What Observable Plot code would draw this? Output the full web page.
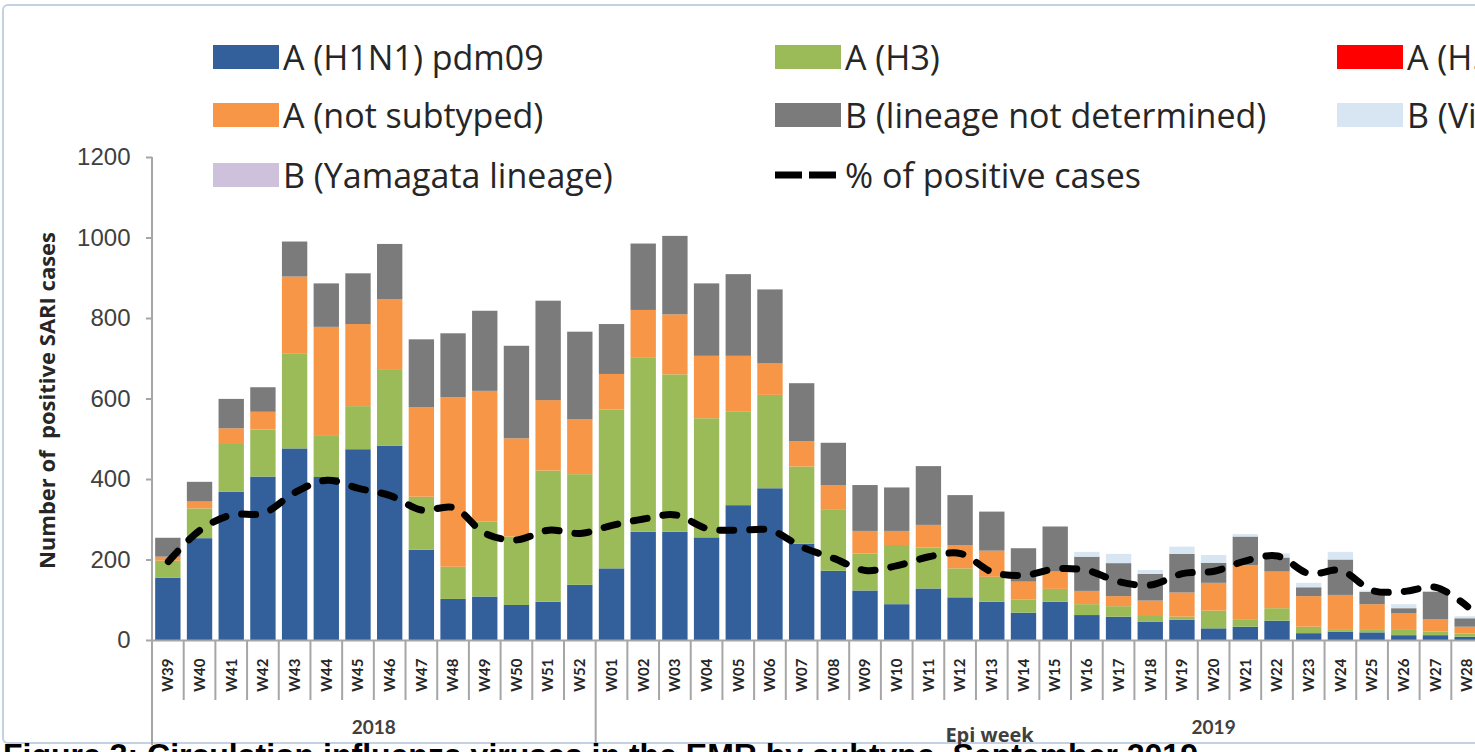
<!DOCTYPE html>
<html>
<head>
<meta charset="utf-8">
<script src="https://cdn.jsdelivr.net/npm/d3@7"></script>
<script src="https://cdn.jsdelivr.net/npm/@observablehq/plot@0.6"></script>
<style>
  html, body { margin: 0; padding: 0; overflow: hidden; background: #fff; }
  #wrap { position: relative; width: 1475px; height: 752px; overflow: hidden; background: #fff; }
  #frame { position: absolute; left: 2px; top: 4px; width: 1520px; height: 740px; border: 2px solid #c3d1e2; border-radius: 6px; box-sizing: border-box; }
  #chart { position: absolute; left: 0; top: 0; width: 1490px; height: 752px; }
  #chart svg { max-width: none !important; }
  .lg { position: absolute; height: 40px; display: flex; align-items: center; white-space: nowrap;
        font-family: "Open Sans", Lato, sans-serif; font-size: 34px; color: #262626; }
  .sw { width: 66px; height: 24px; margin-right: 4px; flex: none; }
  .caption { position: absolute; left: 3px; top: 739px; white-space: nowrap; line-height: 32px;
             font-family: "Liberation Sans", Arial, sans-serif; font-weight: bold; font-size: 32px; color: #000; }
</style>
</head>
<body>
<div id="wrap">
  <div id="frame"></div>
  <div id="chart"></div>
  <div id="legend"></div>
  <div class="caption">Figure 3: Circulation influenza viruses in the EMR by subtype, September 2019</div>
</div>
<script>
// ---- data ----
const weeks = ["W39","W40","W41","W42","W43","W44","W45","W46","W47","W48","W49","W50","W51","W52",
  "W01","W02","W03","W04","W05","W06","W07","W08","W09","W10","W11","W12","W13","W14",
  "W15","W16","W17","W18","W19","W20","W21","W22","W23","W24","W25","W26","W27","W28"];

const h1n1 = [155,253,368,406,476,405,474,483,224,102,108,87,95,137,
  178,269,269,255,335,377,239,172,123,89,128,106,95,68,
  95,62,58,45,50,29,33,48,17,21,19,12,12,8];
const h3 = [42,74,119,117,235,104,107,190,132,80,186,170,326,275,
  395,432,391,296,232,232,192,153,92,147,102,72,62,33,
  32,27,26,17,8,44,17,31,16,6,6,13,9,8];
const h5 = [0,0,0,0,0,0,0,0,0,0,0,0,0,0,
  0,0,0,0,0,0,0,0,0,0,0,0,0,0,
  0,0,0,0,0,0,0,0,0,0,0,0,0,0];
const notSubtyped = [10,17,39,44,192,269,204,174,222,421,325,244,175,136,
  88,119,149,155,139,78,63,60,56,35,56,58,65,44,
  43,33,25,36,60,69,136,91,76,85,64,41,30,17];
const bNotDetermined = [47,49,73,61,87,108,126,137,169,159,199,230,247,218,
  124,165,195,180,203,184,144,105,114,108,146,124,97,83,
  112,85,82,66,96,50,71,35,22,88,31,13,69,21];
const bVictoria = [0,0,0,0,0,0,0,0,0,0,0,0,0,0,
  0,0,0,0,0,0,0,0,0,0,0,0,0,0,
  0,12,23,10,18,19,6,10,11,19,3,10,0,5];
const bYamagata = [0,0,0,0,0,0,0,0,0,0,0,0,0,0,
  0,0,0,0,0,0,0,0,0,0,0,0,0,0,
  0,0,0,0,0,0,0,0,0,0,0,0,0,0];
// % of positive cases (secondary axis, 0–60 %)
const pctPositive = [9.8,13.7,15.6,15.8,18.4,19.9,18.9,18.0,16.2,16.5,13.3,12.5,13.7,13.3,
  14.3,15.1,15.6,13.9,13.7,13.7,11.6,10.2,8.7,9.3,10.4,10.8,8.5,8.1,
  8.9,8.7,7.3,6.9,8.3,8.6,9.9,10.5,8.3,8.7,6.2,6.1,6.6,4.2];

const seriesNames = ["A (H1N1) pdm09","A (H3)","A (H5)","A (not subtyped)",
  "B (lineage not determined)","B (Victoria lineage)","B (Yamagata lineage)"];
const seriesColors = ["#33609a","#9bbb59","#ff0000","#f79646","#7b7b7b","#d7e6f2","#cdc1db"];
const lineName = "% of positive cases";
const yTicks = [0,200,400,600,800,1000,1200];
const yTitle = "Number of  positive SARI cases";
const xTitle = "Epi week";
const years = ["2018","2019"];
const pctMax = 60, casesMax = 1200;

// ---- table ----
const seriesValues = [h1n1,h3,h5,notSubtyped,bNotDetermined,bVictoria,bYamagata];
const rows = [];
seriesNames.forEach((s,i) => weeks.forEach((w,j) => rows.push({week:w, series:s, cases:seriesValues[i][j]})));
const linePts = weeks.map((w,j) => ({week:w, pct:pctPositive[j]}));

const chart = Plot.plot({
  width: 1490, height: 752,
  marginLeft: 152, marginRight: 7, marginTop: 157, marginBottom: 112,
  style: {background: "transparent", overflow: "visible", maxWidth: "none"},
  x: {domain: weeks, paddingInner: 0.2, paddingOuter: 0.1, round: false},
  y: {domain: [0, casesMax]},
  color: {domain: seriesNames, range: seriesColors},
  marks: [
    Plot.barY(rows, {x: "week", y: "cases", fill: "series"}),
    Plot.ruleY([0], {stroke: "#a6a6a6", strokeWidth: 2}),
    Plot.axisY({ticks: yTicks, tickSize: 6, tickPadding: 16, tickFormat: d => String(d), label: null,
      fontSize: 24, fontFamily: "'Liberation Sans', sans-serif"}),
    Plot.axisX({tickRotate: -90, tickSize: 0, tickPadding: 18, label: null,
      fontSize: 15, fontWeight: "bold", fontFamily: "Lato, sans-serif"}),
    Plot.line(linePts, {x: "week", y: d => d.pct * casesMax / pctMax, curve: "catmull-rom",
      stroke: "#000", strokeWidth: 7, strokeDasharray: "14,16", strokeLinecap: "round"})
  ]
});
document.getElementById("chart").appendChild(chart);

// ---- axis styling & multi-level category axis ----
const svg = d3.select(chart);
svg.selectAll('g[aria-label="y-axis tick"]').attr("stroke", "#a6a6a6").attr("stroke-width", 2);
svg.selectAll('g[aria-label="y-axis tick label"]').attr("fill", "#404040");
svg.selectAll('g[aria-label="x-axis tick label"]').attr("fill", "#262626");

const xs = chart.scale("x"), ys = chart.scale("y");
const bw = xs.bandwidth;
const step = xs.apply(weeks[1]) - xs.apply(weeks[0]);
const leftEdge = w => xs.apply(w) - (step - bw) / 2;
const y0 = ys.apply(0), yTop = ys.apply(casesMax);

const g = svg.append("g").attr("stroke", "#a6a6a6").attr("stroke-width", 2);
weeks.forEach((w, i) => {
  if (i === 0) return;
  const x = leftEdge(w);
  g.append("line").attr("x1", x).attr("x2", x).attr("y1", y0).attr("y2", w === "W01" ? 745 : 700);
});
const xAxis0 = leftEdge(weeks[0]);
g.append("line").attr("x1", xAxis0).attr("x2", xAxis0).attr("y1", yTop).attr("y2", 745);

const t = svg.append("g").attr("font-family", "Lato, sans-serif").attr("font-weight", "bold").attr("fill", "#404040");
const x2018 = (leftEdge("W39") + leftEdge("W01")) / 2;
const x2019 = xs.apply("W20") + bw / 2;
t.append("text").attr("x", x2018).attr("y", y0 + 87).attr("text-anchor", "middle").attr("dy", "0.35em").attr("font-size", 19).text(years[0]);
t.append("text").attr("x", x2019).attr("y", y0 + 87).attr("text-anchor", "middle").attr("dy", "0.35em").attr("font-size", 19).text(years[1]);
t.append("text").attr("x", xs.apply("W12") - 2).attr("y", y0 + 95).attr("text-anchor", "start").attr("dy", "0.35em")
  .attr("font-family", "'Open Sans', Lato, sans-serif").attr("font-size", 20).text(xTitle);
svg.append("text").attr("transform", `translate(47,${(y0 + yTop) / 2 + 2}) rotate(-90)`)
  .attr("text-anchor", "middle").attr("dy", "0.35em")
  .attr("font-family", "'Open Sans', Lato, sans-serif").attr("font-weight", "bold").attr("font-size", 22)
  .attr("fill", "#262626").style("white-space", "pre").text(yTitle);

// ---- legend (3 columns, overlaid as in the source) ----
const legend = document.getElementById("legend");
const colSw = [213, 775, 1337], rowY = [57, 115, 175];
const entries = seriesNames.map((s, i) => ({label: s, color: seriesColors[i]}));
entries.push({label: lineName, line: true});
entries.forEach((e, k) => {
  const col = k % 3, row = Math.floor(k / 3);
  const div = document.createElement("div");
  div.className = "lg";
  div.style.left = colSw[col] + "px";
  div.style.top = (rowY[row] - 20) + "px";
  if (e.line) {
    div.innerHTML = `<svg class="sw" width="66" height="24" style="overflow:visible"><line x1="0" x2="66" y1="12" y2="12" stroke="#000" stroke-width="7" stroke-dasharray="27,7" /></svg>`;
  } else {
    div.innerHTML = `<div class="sw" style="background:${e.color}"></div>`;
  }
  const span = document.createElement("span");
  span.textContent = e.label;
  div.appendChild(span);
  legend.appendChild(div);
});
</script>
</body>
</html>
